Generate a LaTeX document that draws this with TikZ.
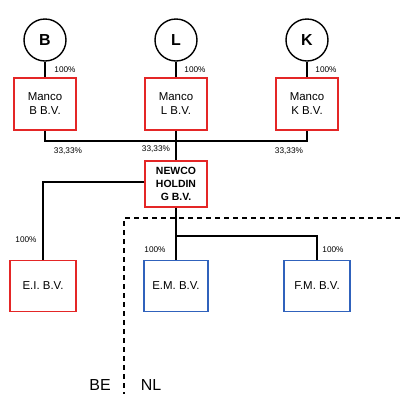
\documentclass[tikz,border=0pt]{standalone}
\usepackage{fontspec}
\setmainfont{Liberation Sans}
\definecolor{boxred}{RGB}{228,38,38}
\definecolor{boxblue}{RGB}{48,98,188}
\begin{document}
\begin{tikzpicture}[x=1bp,y=-1bp,
  person/.style={circle,draw,line width=1.4bp,minimum size=42bp,inner sep=0pt,font=\fontsize{16}{18}\selectfont\bfseries},
  redbox/.style={draw=boxred,line width=1.4bp,minimum width=62bp,minimum height=52bp,align=center,inner sep=1pt,font=\fontsize{11.5}{14}\selectfont},
  bluebox/.style={redbox,draw=boxblue},
  pct/.style={font=\fontsize{8.3}{9}\selectfont,inner sep=0pt},
  link/.style={line width=1.4bp},
  border/.style={line width=1.4bp,dash pattern=on 5bp off 4bp}]
\useasboundingbox (0,0) rectangle (400,396);
% shareholders
\node[person] (b) at (45,40) {B};
\node[person] (l) at (176,40) {L};
\node[person] (k) at (307,40) {K};
% management companies
\node[redbox] (mb) at (45,104) {Manco\\B B.V.};
\node[redbox] (ml) at (176,104) {Manco\\L B.V.};
\node[redbox] (mk) at (307,104) {Manco\\K B.V.};
% holding
\node[redbox,minimum height=46bp,font=\fontsize{10.5}{13}\selectfont\bfseries] (nh) at (176,184) {NEWCO\\HOLDIN\\G B.V.};
% subsidiaries
\node[redbox,minimum width=66bp,minimum height=51bp] (ei) at (43,286) {E.I. B.V.};
\node[bluebox,minimum width=64bp,minimum height=51bp] (em) at (176,286) {E.M. B.V.};
\node[bluebox,minimum width=66bp,minimum height=51bp] (fm) at (317,286) {F.M. B.V.};
% junctions
\coordinate (top) at (176,141);
\coordinate (fork) at (176,236);
% ownership lines
\draw[link] (b) -- (mb);
\draw[link] (l) -- (ml);
\draw[link] (k) -- (mk);
\draw[link] (mb.south) |- (top) -| (mk.south);
\draw[link] (ml) -- (nh);
\draw[link] (nh.west |- 0,182) -| (ei.north);
\draw[link] (nh.south) -- (fork) -- (em.north);
\draw[link] (fork) -| (fm.north);
% percentages
\node[pct] at (65,70) {100\%};
\node[pct] at (195,70) {100\%};
\node[pct] at (326,70) {100\%};
\node[pct] at (68,151) {33,33\%};
\node[pct] at (156,149) {33,33\%};
\node[pct] at (289,151) {33,33\%};
\node[pct] at (26,240) {100\%};
\node[pct] at (155,250) {100\%};
\node[pct] at (333,250) {100\%};
% country border
\coordinate (bc) at (124,218);
\coordinate (be) at (400,218);
\coordinate (bb) at (124,394);
\draw[border] (be) -- (bc) -- (bb);
\node[font=\fontsize{16}{18}\selectfont] (lbe) at (100,385) {BE};
\node[font=\fontsize{16}{18}\selectfont] (lnl) at (151,385) {NL};
\end{tikzpicture}
\end{document}
